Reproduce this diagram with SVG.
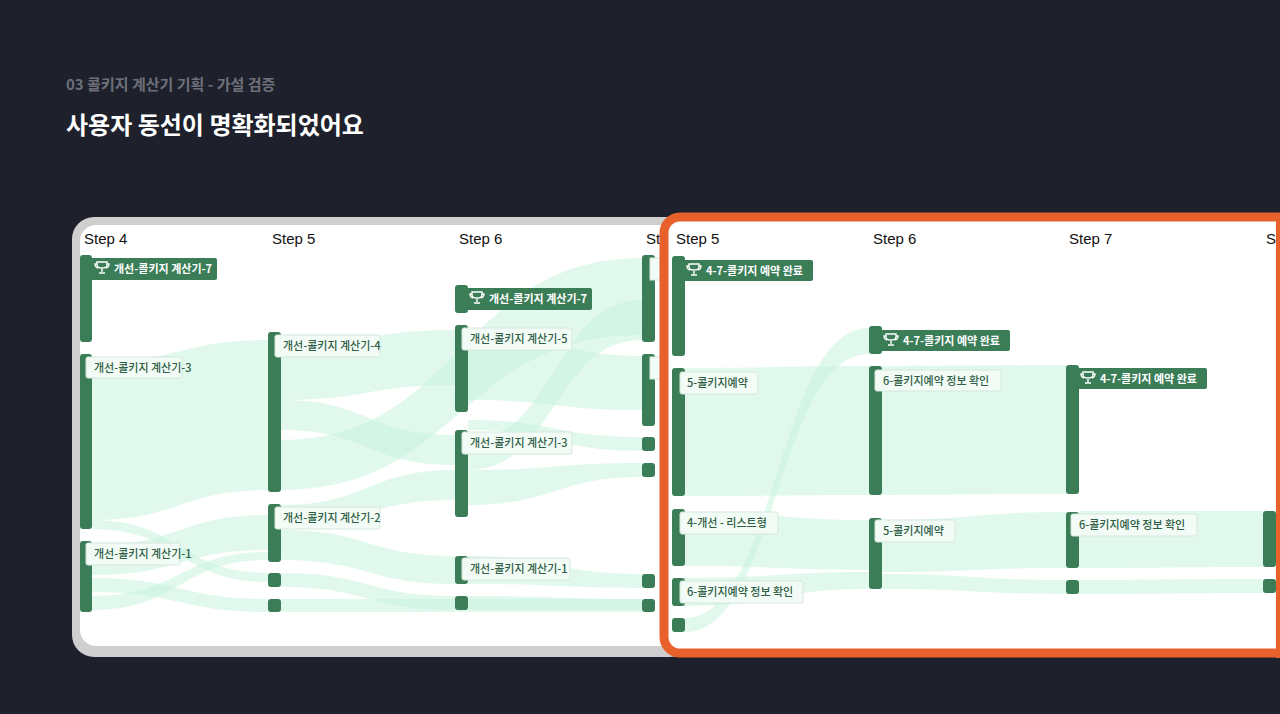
<svg xmlns="http://www.w3.org/2000/svg" width="1280" height="714" viewBox="0 0 1280 714">
<style>
.bar{fill:#3a7d57}
.flow{fill:#c9f2de;opacity:0.55}
.step{font-family:"Liberation Sans",Arial,sans-serif;font-size:15px;fill:#111}
.lb{fill:#f3fbf6;stroke:#d5e8dc;stroke-width:1}
.lbt{font-family:"Noto Sans CJK KR","Noto Sans",sans-serif;font-size:11px;fill:#2f5e45;font-weight:500}
.db{fill:#3a7d57}
.dbt{font-family:"Noto Sans CJK KR","Noto Sans",sans-serif;font-size:11px;fill:#fff;font-weight:700}
.tro{fill:none;stroke:#fff;stroke-width:1.4}
</style>
<defs>
<g id="trophy"><path class="tro" d="M-5,-6 H5 V-3 C5,1 -5,1 -5,-3 Z M-5,-4 H-7 C-7,-1 -5,0 -4,0 M5,-4 H7 C7,-1 5,0 4,0 M0,1 V4 M-3,5 H3"/></g>
</defs>
<rect width="1280" height="714" fill="#1e212b"/>
<text x="66" y="90" font-family="Noto Sans CJK KR,sans-serif" font-size="15" font-weight="600" fill="#6d707a">03 콜키지 계산기 기획 - 가설 검증</text>
<text x="66" y="134" font-family="Noto Sans CJK KR,sans-serif" font-size="24" font-weight="700" fill="#ffffff">사용자 동선이 명확화되었어요</text>

<g id="left-panel">
<rect x="72" y="217" width="620" height="440" rx="22" fill="#cfcfcf"/>
<rect x="80" y="225" width="610" height="421" rx="16" fill="#ffffff"/>
</g>
<g id="connectors">
<path class="flow" d="M92,362 C180,362 180,340 268,340 L268,490 C180,490 180,520 92,520 Z"/>
<path class="flow" d="M92,520 C180,520 180,573 268,573 L268,582 C180,582 180,529 92,529 Z"/>
<path class="flow" d="M92,545 C180,545 180,515 268,515 L268,550 C180,550 180,575 92,575 Z"/>
<path class="flow" d="M92,578 C180,578 180,599 268,599 L268,612 C180,612 180,592 92,592 Z"/>
<path class="flow" d="M92,596 C180,596 180,552 268,552 L268,560 C180,560 180,610 92,610 Z"/>
<path class="flow" d="M281,345 C368,345 368,330 455,330 L455,385 C368,385 368,400 281,400 Z"/>
<path class="flow" d="M281,400 C368,400 368,435 455,435 L455,465 C368,465 368,430 281,430 Z"/>
<path class="flow" d="M281,440 C460,440 460,258 642,258 L642,335 C460,335 460,490 281,490 Z"/>
<path class="flow" d="M281,505 C368,505 368,470 455,470 L455,500 C368,500 368,525 281,525 Z"/>
<path class="flow" d="M281,530 C368,530 368,556 455,556 L455,584 C368,584 368,560 281,560 Z"/>
<path class="flow" d="M281,573 C368,573 368,596 455,596 L455,610 C368,610 368,587 281,587 Z"/>
<path class="flow" d="M281,599 C460,599 460,599 642,599 L642,612 C460,612 460,612 281,612 Z"/>
<path class="flow" d="M468,330 C555,330 555,356 642,356 L642,410 C555,410 555,400 468,400 Z"/>
<path class="flow" d="M468,440 C555,440 555,300 642,300 L642,340 C555,340 555,470 468,470 Z"/>
<path class="flow" d="M468,470 C555,470 555,463 642,463 L642,477 C555,477 555,505 468,505 Z"/>
<path class="flow" d="M468,420 C555,420 555,437 642,437 L642,451 C555,451 555,430 468,430 Z"/>
<path class="flow" d="M468,556 C555,556 555,574 642,574 L642,588 C555,588 555,584 468,584 Z"/>
<path class="flow" d="M468,596 C555,596 555,599 642,599 L642,610 C555,610 555,610 468,610 Z"/>
</g>
<g id="left-nodes">
<rect class="bar" x="80" y="255" width="12" height="87" rx="3"/>
<rect class="bar" x="80" y="354" width="12" height="175" rx="3"/>
<rect class="bar" x="80" y="541" width="12" height="71" rx="3"/>
<rect class="bar" x="268" y="332" width="13" height="160" rx="3"/>
<rect class="bar" x="268" y="504" width="13" height="58" rx="3"/>
<rect class="bar" x="268" y="573" width="13" height="14" rx="3"/>
<rect class="bar" x="268" y="599" width="13" height="13" rx="3"/>
<rect class="bar" x="455" y="285" width="13" height="28" rx="3"/>
<rect class="bar" x="455" y="325" width="13" height="87" rx="3"/>
<rect class="bar" x="455" y="430" width="13" height="87" rx="3"/>
<rect class="bar" x="455" y="556" width="13" height="28" rx="3"/>
<rect class="bar" x="455" y="596" width="13" height="14" rx="3"/>
<rect class="bar" x="642" y="255" width="13" height="87" rx="3"/>
<rect class="bar" x="642" y="354" width="13" height="72" rx="3"/>
<rect class="bar" x="642" y="437" width="13" height="14" rx="3"/>
<rect class="bar" x="642" y="463" width="13" height="14" rx="3"/>
<rect class="bar" x="642" y="574" width="13" height="14" rx="3"/>
<rect class="bar" x="642" y="599" width="13" height="13" rx="3"/>
<rect class="db" x="85" y="258" width="132" height="22" rx="2"/>
<use href="#trophy" x="102" y="268"/>
<text class="dbt" x="114" y="273">개선-콜키지 계산기-7</text>
<rect class="db" x="460" y="288" width="132" height="22" rx="2"/>
<use href="#trophy" x="477" y="298"/>
<text class="dbt" x="489" y="303">개선-콜키지 계산기-7</text>
<rect class="lb" x="86" y="357" width="96" height="21" rx="2"/>
<text class="lbt" x="94" y="372">개선-콜키지 계산기-3</text>
<rect class="lb" x="86" y="543" width="94" height="22" rx="2"/>
<text class="lbt" x="94" y="558">개선-콜키지 계산기-1</text>
<rect class="lb" x="275" y="335" width="105" height="22" rx="2"/>
<text class="lbt" x="283" y="350">개선-콜키지 계산기-4</text>
<rect class="lb" x="275" y="507" width="105" height="22" rx="2"/>
<text class="lbt" x="283" y="522">개선-콜키지 계산기-2</text>
<rect class="lb" x="462" y="328" width="110" height="22" rx="2"/>
<text class="lbt" x="470" y="343">개선-콜키지 계산기-5</text>
<rect class="lb" x="462" y="432" width="110" height="22" rx="2"/>
<text class="lbt" x="470" y="447">개선-콜키지 계산기-3</text>
<rect class="lb" x="462" y="558" width="108" height="22" rx="2"/>
<text class="lbt" x="470" y="573">개선-콜키지 계산기-1</text>
<rect class="lb" x="650" y="258" width="12" height="22"/>
<rect class="lb" x="650" y="357" width="12" height="22"/>
<text class="step" x="84" y="244">Step 4</text>
<text class="step" x="272" y="244">Step 5</text>
<text class="step" x="459" y="244">Step 6</text>
<text class="step" x="646" y="244">St</text>
</g>

<g id="right-panel">
<rect x="664" y="217" width="630" height="436" rx="16" fill="#ffffff" stroke="#e8612a" stroke-width="9"/>
</g>
<g id="right-connectors">
<path class="flow" d="M685,368 C777,368 777,366 869,366 L869,495 C777,495 777,496 685,496 Z"/>
<path class="flow" d="M882,366 C974,366 974,365 1066,365 L1066,494 C974,494 974,495 882,495 Z"/>
<path class="flow" d="M685,618 C777,618 777,328 869,328 L869,354 C777,354 777,632 685,632 Z"/>
<path class="flow" d="M685,512 C777,512 777,520 869,520 L869,570 C777,570 777,566 685,566 Z"/>
<path class="flow" d="M685,578 C777,578 777,572 869,572 L869,589 C777,589 777,606 685,606 Z"/>
<path class="flow" d="M882,520 C974,520 974,512 1066,512 L1066,568 C974,568 974,572 882,572 Z"/>
<path class="flow" d="M882,574 C974,574 974,580 1066,580 L1066,594 C974,594 974,589 882,589 Z"/>
<path class="flow" d="M1079,511 C1170,511 1170,511 1263,511 L1263,567 C1170,567 1170,568 1079,568 Z"/>
<path class="flow" d="M1079,580 C1170,580 1170,579 1263,579 L1263,593 C1170,593 1170,594 1079,594 Z"/>
</g>
<g id="right-nodes">
<rect class="bar" x="672" y="256" width="13" height="100" rx="3"/>
<rect class="bar" x="672" y="368" width="13" height="128" rx="3"/>
<rect class="bar" x="672" y="509" width="13" height="57" rx="3"/>
<rect class="bar" x="672" y="578" width="13" height="28" rx="3"/>
<rect class="bar" x="672" y="618" width="13" height="14" rx="3"/>
<rect class="bar" x="869" y="326" width="13" height="28" rx="3"/>
<rect class="bar" x="869" y="366" width="13" height="129" rx="3"/>
<rect class="bar" x="869" y="518" width="13" height="71" rx="3"/>
<rect class="bar" x="1066" y="365" width="13" height="129" rx="3"/>
<rect class="bar" x="1066" y="512" width="13" height="56" rx="3"/>
<rect class="bar" x="1066" y="580" width="13" height="14" rx="3"/>
<rect class="bar" x="1263" y="511" width="13" height="56" rx="3"/>
<rect class="bar" x="1263" y="579" width="13" height="14" rx="3"/>
<rect class="db" x="677" y="260" width="136" height="21" rx="2"/>
<use href="#trophy" x="694" y="270"/>
<text class="dbt" x="706" y="275">4-7-콜키지 예약 완료</text>
<rect class="db" x="874" y="330" width="136" height="21" rx="2"/>
<use href="#trophy" x="891" y="340"/>
<text class="dbt" x="903" y="345">4-7-콜키지 예약 완료</text>
<rect class="db" x="1071" y="368" width="136" height="21" rx="2"/>
<use href="#trophy" x="1088" y="378"/>
<text class="dbt" x="1100" y="383">4-7-콜키지 예약 완료</text>
<rect class="lb" x="680" y="372" width="78" height="22" rx="2"/>
<text class="lbt" x="687" y="387">5-콜키지예약</text>
<rect class="lb" x="680" y="512" width="98" height="22" rx="2"/>
<text class="lbt" x="687" y="527">4-개선 - 리스트형</text>
<rect class="lb" x="680" y="581" width="123" height="22" rx="2"/>
<text class="lbt" x="687" y="596">6-콜키지예약 정보 확인</text>
<rect class="lb" x="875" y="370" width="126" height="21" rx="2"/>
<text class="lbt" x="883" y="385">6-콜키지예약 정보 확인</text>
<rect class="lb" x="875" y="520" width="80" height="22" rx="2"/>
<text class="lbt" x="883" y="535">5-콜키지예약</text>
<rect class="lb" x="1071" y="514" width="126" height="22" rx="2"/>
<text class="lbt" x="1079" y="529">6-콜키지예약 정보 확인</text>
<text class="step" x="676" y="244">Step 5</text>
<text class="step" x="873" y="244">Step 6</text>
<text class="step" x="1069" y="244">Step 7</text>
<text class="step" x="1266" y="244">St</text>
</g>
<rect x="1276" y="213" width="4" height="445" fill="#e8612a"/>
</svg>
